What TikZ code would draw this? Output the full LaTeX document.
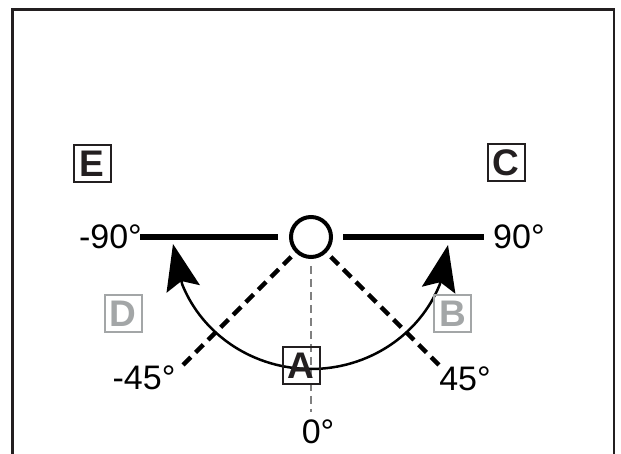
\documentclass[tikz,border=0pt]{standalone}
\usepackage{fontspec}
\setmainfont{Liberation Sans}
\usepackage{xcolor}
\usetikzlibrary{arrows.meta,positioning,calc}
\definecolor{ink}{HTML}{231F20}
\definecolor{pale}{HTML}{A3A6A7}

\tikzset{
  letterbox/.style={draw=ink, line width=2pt, minimum size=37pt, inner sep=0pt, text=ink, font=\fontsize{37}{37}\selectfont\bfseries},
  fadedbox/.style={letterbox, draw=pale, text=pale},
  deg/.style={font=\fontsize{34}{34}\selectfont, inner sep=0pt},
  swing/.style={line width=2.5pt, -{Stealth[length=46pt,width=34pt,inset=8pt]}},
  ray/.style={line width=4.5pt, dash pattern=on 11pt off 6.75pt, shorten <=6pt},
}

\begin{document}
\begin{tikzpicture}[x=1pt, y=1pt]
    \useasboundingbox (0,0) rectangle (621,454);
    \draw[ink, line width=2.5pt] (12.5,0) -- (12.5,444.5) -- (614,444.5) -- (614,0);

    % Pivot and end stops
    \node[draw, circle, line width=4pt, minimum size=40pt, inner sep=0pt] (hub) at (311,217) {};
    \coordinate (m90) at (140,217);
    \coordinate (p90) at (484,217);
    \draw[line width=6pt, shorten <=11pt] (hub.west) -- (m90);
    \draw[line width=6pt, shorten <=10pt] (hub.east) -- (p90);

    % 45 degree lines
    \coordinate (m45) at ($(hub)+(-135:181)$);
    \coordinate (p45) at ($(hub)+(-45:181)$);
    \draw[ray] (hub.-135) -- (m45);
    \draw[ray] (hub.-45) -- (p45);

    % Centre line
    \coordinate (zero) at (311,42);
    \draw[gray, line width=1.2pt, dash pattern=on 8pt off 5pt, shorten <=7pt] (hub.south) -- (zero);

    % Swing arcs
    \coordinate (low) at ($(hub)+(0,-132)$);
    \coordinate (tipL) at (173,210);
    \coordinate (tipR) at (448,209);
    \draw[swing] (low) arc[start angle=-90, end angle=-21, x radius=138, y radius=132] -- (tipR);
    \draw[swing] (low) arc[start angle=-90, end angle=-159, x radius=138, y radius=132] -- (tipL);

    % Angles
    \node[deg, anchor=east, xshift=2pt] (lm90) at (m90) {-90°};
    \node[deg, anchor=west, xshift=9pt] (lp90) at (p90) {90°};
    \node[deg] (lm45) at (144,76) {-45°};
    \node[deg] (lp45) at (465,75) {45°};
    \node[deg] (l0) at (318,22) {0°};

    % Positions
    \node[letterbox] (E) at (92,290) {E};
    \node[letterbox] (C) at (506,291) {C};
    \node[fadedbox] (D) at (123,140) {D};
    \node[fadedbox] (B) at (452.5,140.5) {B};
    \node[letterbox] (A) at (301,88) {A};
\end{tikzpicture}
\end{document}
